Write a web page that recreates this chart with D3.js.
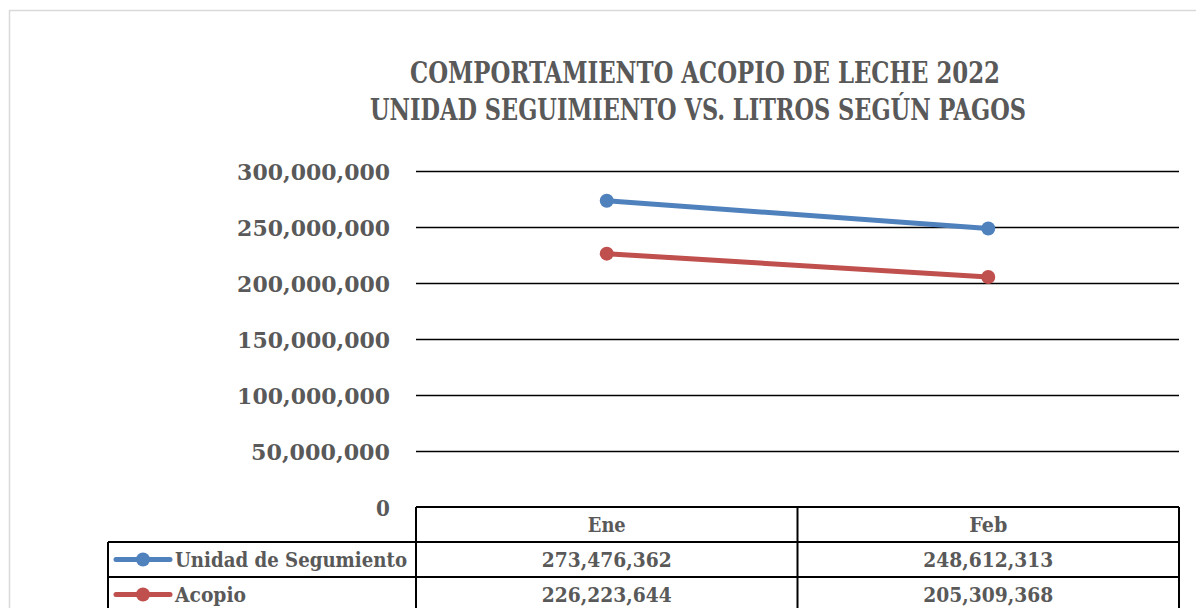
<!DOCTYPE html>
<html><head><meta charset="utf-8">
<script src="https://cdn.jsdelivr.net/npm/d3@7"></script>
<style>
html,body{margin:0;padding:0;background:#fff;}
svg{display:block;}
text{font-family:"DejaVu Serif",serif;font-weight:bold;fill:#595959;}
</style></head>
<body>
<script>
const categories = ["Ene", "Feb"];
const seriesNames = ["Unidad de Segumiento", "Acopio"];
const unidadValues = [273476362, 248612313];
const acopioValues = [226223644, 205309368];
const yTicks = [0, 50000000, 100000000, 150000000, 200000000, 250000000, 300000000];
const titleLines = ["COMPORTAMIENTO ACOPIO DE LECHE 2022", "UNIDAD SEGUIMIENTO VS. LITROS SEGÚN PAGOS"];
const colors = ["#4f81bd", "#c0504d"];

const W = 1196, H = 608;
const svg = d3.select("body").append("svg").attr("width", W).attr("height", H);

// outer chart border
svg.append("rect").attr("x", 9.5).attr("y", 10.5).attr("width", 1300).attr("height", 700)
  .attr("fill", "none").attr("stroke", "#d9d9d9").attr("stroke-width", 1.5);

const plotLeft = 416, plotRight = 1179, plotTop = 171, plotBottom = 507;
const x = d3.scaleBand().domain(categories).range([plotLeft, plotRight]).padding(0);
const y = d3.scaleLinear().domain([0, 300000000]).range([plotBottom, plotTop]);
const fmt = d3.format(",");

function fit(sel, w) { sel.attr("textLength", w).attr("lengthAdjust", "spacingAndGlyphs"); }

// title
svg.append("text").attr("x", 705).attr("y", 83).attr("text-anchor", "middle")
  .style("font-family", "'DejaVu Serif Condensed','DejaVu Serif',serif")
  .attr("font-size", 29).text(titleLines[0]).call(fit, 590);
svg.append("text").attr("x", 698).attr("y", 120).attr("text-anchor", "middle")
  .style("font-family", "'DejaVu Serif Condensed','DejaVu Serif',serif")
  .attr("font-size", 29).text(titleLines[1]).call(fit, 656);

// gridlines
svg.append("g").selectAll("line").data(yTicks.filter(d => d > 0)).join("line")
  .attr("x1", plotLeft).attr("x2", plotRight)
  .attr("y1", d => Math.round(y(d)) + 0.5).attr("y2", d => Math.round(y(d)) + 0.5)
  .attr("stroke", "#000").attr("stroke-width", 1.5);

// y axis labels
const yAxis = d3.axisLeft(y).tickValues(yTicks).tickFormat(fmt).tickSize(0).tickPadding(0);
const gy = svg.append("g").attr("transform", "translate(390,0)").call(yAxis);
gy.select(".domain").remove();
gy.selectAll("text").attr("font-size", 23).attr("dy", "0.36em")
  .style("font-family", "'DejaVu Serif',serif").style("fill", "#595959")
  .each(function(d){ const n = fmt(d).length; d3.select(this).attr("textLength", n * 13.9).attr("lengthAdjust","spacingAndGlyphs"); });

// series lines
const series = [unidadValues, acopioValues];
const line = d3.line().x((d, i) => x(categories[i]) + x.bandwidth() / 2).y(d => y(d));
series.forEach((vals, k) => {
  svg.append("path").datum(vals).attr("d", line).attr("fill", "none")
    .attr("stroke", colors[k]).attr("stroke-width", 5).attr("stroke-linecap", "round");
  svg.append("g").selectAll("circle").data(vals).join("circle")
    .attr("cx", (d, i) => x(categories[i]) + x.bandwidth() / 2).attr("cy", d => y(d))
    .attr("r", 7).attr("fill", colors[k]);
});

// data table
const tLeft = 108, rowH = 35;
const rowsY = [plotBottom, plotBottom + rowH, plotBottom + 2 * rowH, plotBottom + 3 * rowH];
const tg = svg.append("g");
function ln(x1, y1, x2, y2) { tg.append("line").attr("x1", x1).attr("y1", y1).attr("x2", x2).attr("y2", y2).attr("stroke", "#000").attr("stroke-width", 2); }
ln(plotLeft, rowsY[0], plotRight, rowsY[0]);
ln(tLeft, rowsY[1], plotRight, rowsY[1]);
ln(tLeft, rowsY[2], plotRight, rowsY[2]);
ln(tLeft, rowsY[3], plotRight, rowsY[3]);
ln(tLeft, rowsY[1], tLeft, rowsY[3]);
ln(plotLeft, rowsY[0], plotLeft, rowsY[3]);
categories.forEach(c => ln(x(c) + x.bandwidth(), rowsY[0], x(c) + x.bandwidth(), rowsY[3]));

// header
tg.selectAll("text.cat").data(categories).join("text").attr("class", "cat")
  .attr("x", d => x(d) + x.bandwidth() / 2).attr("y", rowsY[0] + 25).attr("text-anchor", "middle")
  .attr("font-size", 20).text(d => d).call(fit, 38);

series.forEach((vals, k) => {
  const ry = rowsY[k + 1];
  tg.selectAll("text.v" + k).data(vals).join("text").attr("class", "v" + k)
    .attr("x", (d, i) => x(categories[i]) + x.bandwidth() / 2).attr("y", ry + 25)
    .attr("text-anchor", "middle").attr("font-size", 21).text(d => fmt(d))
    .call(fit, 130);
  // legend key
  tg.append("line").attr("x1", 116).attr("x2", 170).attr("y1", ry + 17.5).attr("y2", ry + 17.5)
    .attr("stroke", colors[k]).attr("stroke-width", 5).attr("stroke-linecap", "round");
  tg.append("circle").attr("cx", 143).attr("cy", ry + 17.5).attr("r", 7).attr("fill", colors[k]);
  const t = tg.append("text").attr("x", 175).attr("y", ry + 25).attr("font-size", 21).text(seriesNames[k]);
  t.call(fit, k === 0 ? 232 : 71);
});
</script>
</body></html>
